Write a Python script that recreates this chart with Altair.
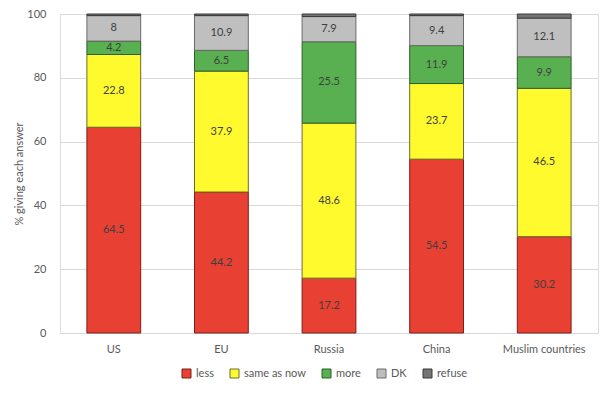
import altair as alt
import pandas as pd

countries = ["US", "EU", "Russia", "China", "Muslim countries"]
answers = ["less", "same as now", "more", "DK", "refuse"]
less = [64.5, 44.2, 17.2, 54.5, 30.2]
same = [22.8, 37.9, 48.6, 23.7, 46.5]
more = [4.2, 6.5, 25.5, 11.9, 9.9]
dk = [8, 10.9, 7.9, 9.4, 12.1]
refuse = [0.5, 0.5, 0.8, 0.5, 1.3]

fills = ["#E84032", "#FFFA2E", "#59B050", "#BFBFBF", "#737373"]
strokes = ["#7A2018", "#6E6A30", "#2F5E2A", "#6A6A6A", "#3A3A3A"]

rows = []
for i, c in enumerate(countries):
    for j, (a, vals) in enumerate(zip(answers, [less, same, more, dk, refuse])):
        rows.append({"country": c, "answer": a, "value": vals[i], "ord": j,
                     "label": ("" if a == "refuse" else f"{vals[i]:g}")})
df = pd.DataFrame(rows)

font = "Lato"
base = alt.Chart(df)

x = alt.X("country:N", sort=countries, title=None,
          scale=alt.Scale(paddingInner=0.5, paddingOuter=0.25),
          axis=alt.Axis(labelAngle=0, labelColor="#595959", labelFontSize=11,
                        labelFont=font, ticks=False, domain=True,
                        domainColor="#D9D9D9", labelPadding=10, grid=False))

leg = alt.Legend(orient="none", legendX=121, legendY=354, direction="horizontal",
                 symbolType="square", symbolSize=81,
                 labelFont=font, labelFontSize=11, labelOffset=4,
                 labelColor="#595959", columnPadding=14,
                 symbolStrokeWidth=1)

bars = base.mark_bar(strokeWidth=1).encode(
    x=x,
    y=alt.Y("value:Q", stack="zero", title="% giving each answer",
            scale=alt.Scale(domain=[0, 100], nice=False),
            axis=alt.Axis(values=[0, 20, 40, 60, 80, 100], grid=True,
                          gridColor="#D9D9D9", domain=False, ticks=False,
                          labelColor="#595959", labelFontSize=11, labelFont=font,
                          labelPadding=14, titleColor="#595959", titleFontSize=11,
                          titleFont=font, titleFontWeight="normal", titlePadding=2)),
    fill=alt.Fill("answer:N", sort=answers, title=None,
                  scale=alt.Scale(domain=answers, range=fills), legend=leg),
    stroke=alt.Stroke("answer:N", sort=answers, title=None,
                      scale=alt.Scale(domain=answers, range=strokes), legend=leg),
    order=alt.Order("ord:Q", sort="ascending"),
)

labels = base.transform_stack(
    stack="value", groupby=["country"], sort=[alt.SortField("ord", order="ascending")],
    as_=["v0", "v1"]
).transform_calculate(
    mid="(datum.v0 + datum.v1) / 2"
).transform_filter(
    "datum.answer != 'refuse'"
).mark_text(font=font, fontSize=11, color="#404040").encode(
    x=alt.X("country:N", sort=countries),
    y=alt.Y("mid:Q"),
    text="label:N",
)

chart = alt.layer(bars, labels).properties(
    width=538, height=319,
    autosize=alt.AutoSizeParams(type="none"),
    padding={"left": 52, "top": 6, "right": 4, "bottom": 60},
).configure_view(stroke=None).configure(background="white")

chart.save("out.html", embed_options={"renderer": "svg", "actions": False})
